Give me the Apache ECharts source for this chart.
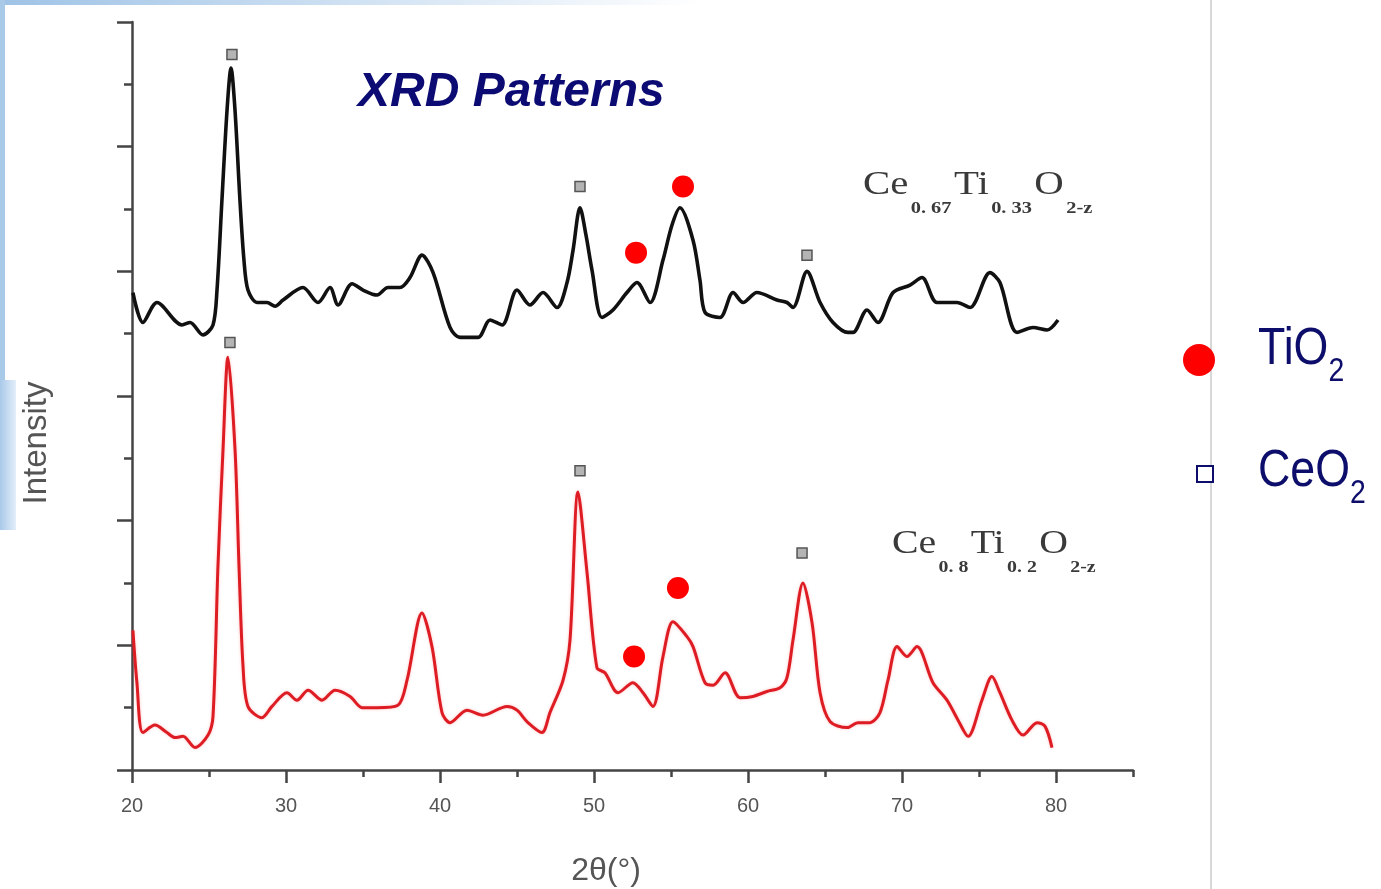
<!DOCTYPE html>
<html>
<head>
<meta charset="utf-8">
<script src="https://cdn.jsdelivr.net/npm/echarts@6/dist/echarts.min.js"></script>
<style>
html, body { margin: 0; padding: 0; background: #fff; }
#chart { width: 1381px; height: 889px; }
</style>
</head>
<body>
<div id="chart"></div>
<script>
// Ce0.67Ti0.33O2-z, upper (black) trace: [2θ, intensity]
const ce067 = [
  [20.06,3.83],[20.71,3.59],[21.62,3.75],[23.25,3.57],[23.77,3.59],[24.61,3.49],[25.26,3.57],
  [25.52,3.85],[25.84,4.57],[26.17,5.29],[26.43,5.63],[26.69,5.29],[27.01,4.57],[27.27,4.09],
  [27.53,3.85],[28.12,3.75],[28.77,3.75],[29.29,3.72],[29.81,3.77],[31.10,3.87],[32.08,3.75],
  [32.86,3.87],[33.38,3.73],[34.29,3.90],[35.00,3.85],[35.91,3.81],[36.62,3.87],[37.40,3.87],
  [38.05,3.95],[38.83,4.13],[39.55,3.99],[40.65,3.55],[41.30,3.47],[42.47,3.47],[43.25,3.61],
  [44.03,3.57],[45.00,3.85],[45.84,3.73],[46.69,3.83],[47.60,3.71],[48.25,3.91],[48.64,4.17],
  [49.09,4.51],[49.48,4.29],[49.87,4.01],[50.52,3.63],[51.23,3.69],[52.14,3.83],[52.79,3.91],
  [53.64,3.75],[54.48,4.09],[55.06,4.37],[55.58,4.51],[56.43,4.25],[56.88,3.93],[57.21,3.67],
  [58.18,3.63],[59.03,3.83],[59.68,3.75],[60.58,3.83],[61.88,3.77],[62.53,3.75],[62.92,3.71],
  [63.83,4.00],[64.68,3.75],[65.52,3.59],[66.49,3.51],[66.82,3.51],[67.73,3.69],[68.44,3.59],
  [69.42,3.83],[70.52,3.89],[71.30,3.95],[72.27,3.75],[73.57,3.75],[74.42,3.71],[75.71,3.99],
  [76.36,3.91],[77.47,3.51],[78.51,3.55],[79.42,3.53],[80.13,3.61]
];

// Ce0.8Ti0.2O2-z, lower (red) trace
const ce08 = [
  [20.06,1.12],[20.32,0.70],[20.71,0.30],[21.49,0.36],[22.27,0.30],[22.79,0.26],[23.31,0.27],
  [24.09,0.18],[24.94,0.28],[25.26,0.43],[25.58,1.63],[25.91,2.57],[26.23,3.31],[26.69,2.57],
  [26.95,1.63],[27.21,0.83],[27.53,0.51],[28.44,0.42],[29.09,0.51],[30.06,0.62],[30.71,0.56],
  [31.43,0.64],[32.34,0.56],[33.18,0.64],[34.16,0.59],[34.94,0.50],[35.91,0.50],[37.27,0.52],
  [37.86,0.72],[38.83,1.26],[39.48,0.99],[40.13,0.46],[40.65,0.38],[41.75,0.48],[42.79,0.44],
  [44.35,0.51],[45.00,0.48],[45.71,0.38],[46.62,0.30],[47.14,0.46],[47.99,0.72],[48.44,1.04],
  [48.96,2.23],[49.55,1.58],[50.19,0.82],[50.71,0.78],[51.56,0.62],[52.53,0.70],[53.18,0.62],
  [53.83,0.51],[54.48,0.91],[55.13,1.19],[56.04,1.07],[56.43,0.99],[57.21,0.70],[57.73,0.68],
  [58.51,0.78],[59.48,0.58],[60.32,0.59],[61.23,0.63],[62.08,0.66],[62.53,0.74],[62.92,1.04],
  [63.57,1.50],[64.16,1.18],[64.68,0.62],[65.32,0.39],[66.43,0.34],[67.14,0.38],[67.92,0.38],
  [68.57,0.46],[69.09,0.72],[69.68,0.99],[70.32,0.91],[70.97,0.99],[72.01,0.70],[72.92,0.56],
  [73.64,0.40],[74.29,0.27],[75.19,0.56],[75.84,0.75],[76.36,0.62],[77.14,0.40],[77.86,0.28],
  [78.77,0.38],[79.29,0.35],[79.74,0.18]
];

// phase markers above the peaks
const ceo2Marks = [[26.49,5.74],[49.09,4.68],[63.83,4.13],[26.36,3.43],[49.09,2.40],[63.51,1.74]];
const tio2Marks = [[52.73,4.15],[55.78,4.68],[52.60,0.91],[55.45,1.46]];

const xMajorTicks = [20, 30, 40, 50, 60, 70, 80];
const xMinorTicks = [25, 35, 45, 55, 65, 75, 85];

const axisColor = '#444';
const navy = '#0d0d6b';
const serifRich = {
  m: { fontFamily: 'Liberation Serif', fontSize: 34, lineHeight: 42, fill: '#3a3a3a', verticalAlign: 'top' },
  s: { fontFamily: 'Liberation Serif', fontSize: 17, lineHeight: 17, fill: '#3a3a3a', verticalAlign: 'top', padding: [32, 2, 0, 2], fontWeight: 'bold' }
};
const legendRich = {
  m: { fontFamily: 'Liberation Sans', fontSize: 52, lineHeight: 60, fill: navy, verticalAlign: 'top' },
  s: { fontFamily: 'Liberation Sans', fontSize: 33, lineHeight: 33, fill: navy, verticalAlign: 'top', padding: [31, 0, 0, 0] }
};

const chart = echarts.init(document.getElementById('chart'));
const option = {
  backgroundColor: '#fff',
  animation: false,
  title: {
    text: 'XRD Patterns',
    left: 358,
    top: 69,
    padding: 0,
    textStyle: { fontFamily: 'Liberation Sans', fontSize: 48, fontWeight: 'bold', fontStyle: 'italic', color: '#0b0b73' }
  },
  grid: { left: 132, right: 248, top: 22, bottom: 119 },
  xAxis: [
    {
      type: 'value', min: 20, max: 85,
      axisLine: { lineStyle: { color: axisColor, width: 2.5 } },
      axisTick: { customValues: xMajorTicks, length: 13, lineStyle: { color: axisColor, width: 2.5 } },
      axisLabel: { customValues: xMajorTicks, margin: 26, fontFamily: 'Liberation Sans', fontSize: 20, color: '#555' },
      splitLine: { show: false }
    },
    {
      type: 'value', min: 20, max: 85, position: 'bottom',
      axisLine: { show: false },
      axisTick: { customValues: xMinorTicks, length: 7, lineStyle: { color: axisColor, width: 2.5 } },
      axisLabel: { show: false },
      splitLine: { show: false }
    }
  ],
  yAxis: {
    type: 'value', min: 0, max: 6, interval: 1,
    axisLine: { show: true, lineStyle: { color: axisColor, width: 2.5 } },
    axisTick: { show: true, length: 15, lineStyle: { color: axisColor, width: 2.5 } },
    minorTick: { show: true, splitNumber: 2, length: 8, lineStyle: { color: axisColor, width: 2.5 } },
    axisLabel: { show: false },
    splitLine: { show: false }
  },
  series: [
    {
      name: 'Ce0.67Ti0.33O2-z', type: 'line', data: ce067, showSymbol: false, smooth: 0.3,
      lineStyle: { color: '#111', width: 3.6 }
    },
    {
      name: 'Ce0.8Ti0.2O2-z', type: 'line', data: ce08, showSymbol: false, smooth: 0.3,
      lineStyle: { color: '#dd1c24', width: 3, shadowColor: 'rgba(255,80,80,0.35)', shadowBlur: 3 }
    },
    {
      name: 'CeO2', type: 'scatter', data: ceo2Marks, symbol: 'rect', symbolSize: 10,
      itemStyle: { color: '#b4b4b4', borderColor: '#555', borderWidth: 1.5, opacity: 1 }
    },
    {
      name: 'TiO2', type: 'scatter', data: tio2Marks, symbol: 'circle', symbolSize: 22,
      itemStyle: { color: '#ff0000', opacity: 1 }
    }
  ],
  graphic: [
    // slide background edges
    { type: 'rect', shape: { x: 0, y: 0, width: 700, height: 5 }, silent: true,
      style: { fill: new echarts.graphic.LinearGradient(0, 0, 1, 0, [{ offset: 0, color: '#9fc3e6' }, { offset: 1, color: '#ffffff' }]) } },
    { type: 'rect', shape: { x: 0, y: 0, width: 5, height: 530 }, silent: true, style: { fill: '#a9c9e9' } },
    { type: 'rect', shape: { x: 0, y: 380, width: 16, height: 150 }, silent: true,
      style: { fill: new echarts.graphic.LinearGradient(0, 0, 1, 0, [{ offset: 0, color: '#a9c9e9' }, { offset: 1, color: '#e3eef9' }]) } },
    { type: 'line', shape: { x1: 1211, y1: 0, x2: 1211, y2: 889 }, silent: true, style: { stroke: '#d8d8d8', lineWidth: 2 } },
    // axis names
    { type: 'text', x: 606, y: 871, silent: true,
      style: { text: '2θ(°)', fontFamily: 'Liberation Sans', fontSize: 32, fill: '#555', align: 'center', verticalAlign: 'middle' } },
    { type: 'text', x: 37, y: 443, rotation: Math.PI / 2, silent: true,
      style: { text: 'Intensity', fontFamily: 'Liberation Sans', fontSize: 33, fill: '#555', align: 'center', verticalAlign: 'middle' } },
    // sample labels
    { type: 'text', x: 863, y: 168, scaleX: 1.2, silent: true,
      style: { text: '{m|Ce}{s|0. 67}{m|Ti}{s|0. 33}{m|O}{s|2-z}', rich: serifRich, verticalAlign: 'top' } },
    { type: 'text', x: 892, y: 527, scaleX: 1.17, silent: true,
      style: { text: '{m|Ce}{s|0. 8}{m|Ti}{s|0. 2}{m|O}{s|2-z}', rich: serifRich, verticalAlign: 'top' } },
    // legend
    { type: 'circle', shape: { cx: 1199, cy: 360, r: 16 }, silent: true, style: { fill: '#ff0000' } },
    { type: 'rect', shape: { x: 1197, y: 466, width: 16, height: 16 }, silent: true, style: { fill: '#fff', stroke: navy, lineWidth: 2 } },
    { type: 'text', x: 1258, y: 324, scaleX: 0.86, silent: true,
      style: { text: '{m|TiO}{s|2}', rich: legendRich, verticalAlign: 'top' } },
    { type: 'text', x: 1258, y: 446, scaleX: 0.86, silent: true,
      style: { text: '{m|CeO}{s|2}', rich: legendRich, verticalAlign: 'top' } }
  ]
};
chart.setOption(option);
</script>
</body>
</html>
